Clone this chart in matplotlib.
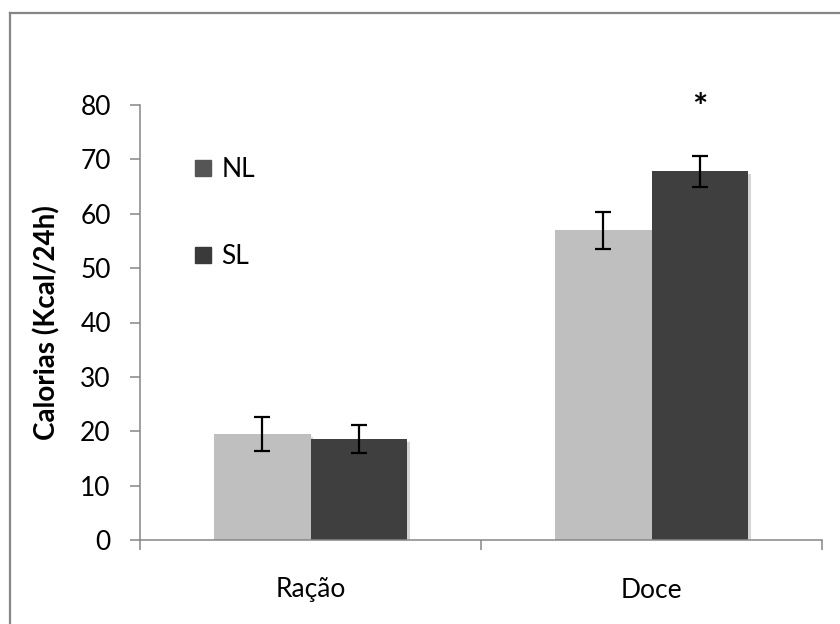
import numpy as np
import matplotlib
matplotlib.use("Agg")
import matplotlib.pyplot as plt
from matplotlib.patches import Patch
from matplotlib.lines import Line2D
import matplotlib.patheffects as pe

plt.rcParams["font.family"] = ["Lato", "DejaVu Sans"]

# dados
categorias = ["Ração", "Doce"]
grupos = ["NL", "SL"]
nl_media = [19.5, 57.0]
nl_erro = [3.2, 3.4]
sl_media = [18.6, 67.8]
sl_erro = [2.6, 2.8]

cor_nl = "#bfbfbf"
cor_sl = "#3f3f3f"
cinza = "#868686"

fig = plt.figure(figsize=(8.4, 6.24), dpi=100)
ax = fig.add_axes([140 / 840, 1 - 540 / 624, 682 / 840, 435 / 624])

x = np.arange(len(categorias))
w = 0.284
sombra = [pe.SimplePatchShadow(offset=(2, -2), alpha=0.18), pe.Normal()]

ax.bar(x - w / 2, nl_media, w, color=cor_nl, zorder=2, path_effects=sombra)
ax.bar(x + w / 2, sl_media, w, color=cor_sl, zorder=2, path_effects=sombra)
ax.errorbar(x - w / 2, nl_media, yerr=nl_erro, fmt="none", ecolor="black",
            elinewidth=1.6, capsize=6, capthick=1.6, zorder=3)
ax.errorbar(x + w / 2, sl_media, yerr=sl_erro, fmt="none", ecolor="black",
            elinewidth=1.6, capsize=6, capthick=1.6, zorder=3)

# asterisco
ax.text(x[1] + w / 2, 79.4, "*", ha="center", va="center", fontsize=26,
        fontweight="bold", clip_on=False)

ax.set_ylim(0, 80)
ax.set_xlim(-0.5, 1.5)
ax.set_yticks(np.arange(0, 81, 10))
ax.set_xticks([-0.5, 0.5, 1.5])
ax.set_xticklabels([])
ax.set_xticks(x, minor=True)
ax.set_xticklabels(categorias, minor=True)
ax.tick_params(axis="x", which="minor", length=0, pad=27, labelsize=19)
ax.tick_params(axis="x", which="major", length=7, width=1.1, color=cinza)
ax.tick_params(axis="y", length=7, width=1.1, color=cinza, labelsize=19, pad=14)

for s in ["top", "right"]:
    ax.spines[s].set_visible(False)
for s in ["left", "bottom"]:
    ax.spines[s].set_color(cinza)
    ax.spines[s].set_linewidth(1.1)

ax.set_ylabel("Calorias (Kcal/24h)", fontsize=20, fontweight="bold", labelpad=14)

# legenda
handles = [Patch(color="#555555"), Patch(color="#3a3a3a")]
fig.legend(handles, grupos, loc="upper left", bbox_to_anchor=(182 / 840, 1 - 144 / 624),
           frameon=False, fontsize=19, handlelength=0.6, handleheight=0.6,
           handletextpad=0.4, labelspacing=2.35, borderpad=0)

# moldura
fig.add_artist(Line2D([10 / 840, 1], [1 - 13 / 624, 1 - 13 / 624], color=cinza, lw=1.6))
fig.add_artist(Line2D([10 / 840, 10 / 840], [0, 1 - 13 / 624], color=cinza, lw=1.6))

fig.savefig("out.png", dpi=100)
